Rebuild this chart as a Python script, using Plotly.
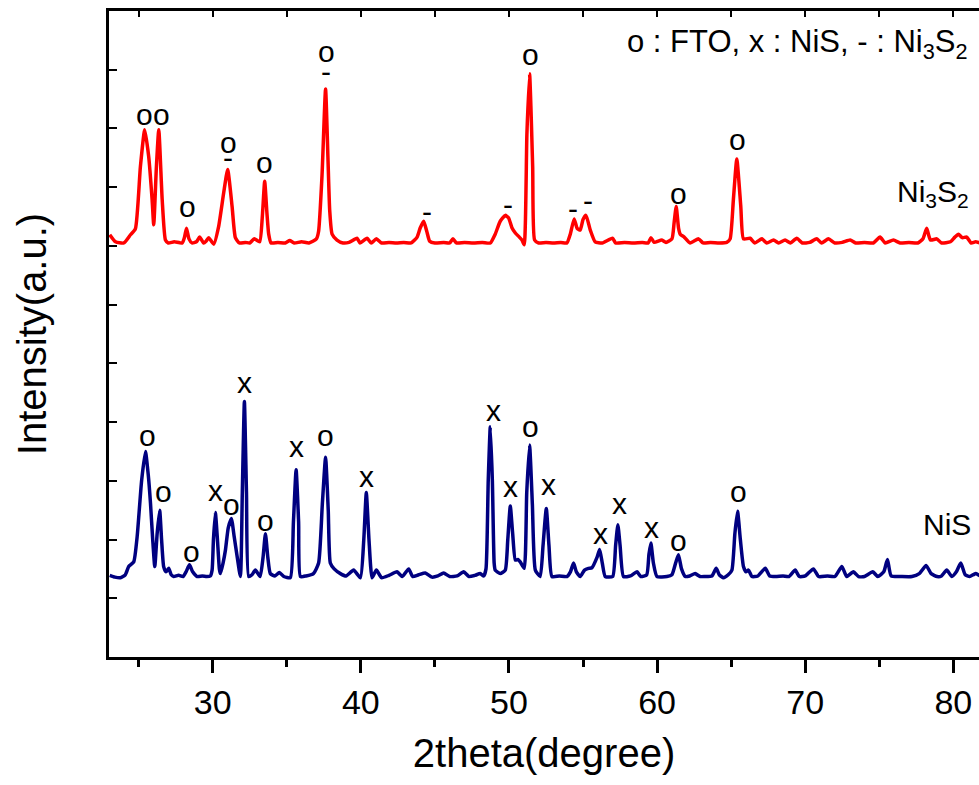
import plotly.graph_objects as go

# ---------------- data ----------------
ni3s2_2theta = [23.05, 23.44, 24.0, 24.45, 24.78, 25.12, 25.41, 25.68, 25.91, 26.02, 26.2, 26.36, 26.59, 26.81,
                27.0, 27.4, 27.94, 28.1, 28.23, 28.4, 28.6, 28.9, 29.12, 29.39, 29.55, 29.73, 30.07, 30.4,
                30.74, 31.01, 31.31, 31.53, 31.8, 32.2, 32.5, 32.81, 33.17, 33.35, 33.51, 33.65, 33.78, 33.94,
                34.4, 34.9, 35.2, 35.5, 36.0, 36.5, 37.0, 37.15, 37.38, 37.62, 37.78, 37.9, 38.06, 38.39,
                38.8, 39.2, 39.74, 39.95, 40.42, 40.7, 41.05, 41.4, 41.9, 42.4, 42.9, 43.4, 43.8, 44.0,
                44.24, 44.45, 44.65, 45.0, 45.6, 46.0, 46.22, 46.45, 47.0, 47.6, 48.2, 48.74, 49.07, 49.41,
                49.75, 49.97, 50.2, 50.43, 50.7, 50.88, 51.03, 51.21, 51.39, 51.6, 51.73, 52.0, 52.5, 53.0,
                53.5, 53.91, 54.14, 54.4, 54.6, 54.81, 55.0, 55.2, 55.49, 55.82, 56.3, 56.99, 57.2, 57.8,
                58.4, 59.0, 59.4, 59.58, 59.8, 60.32, 60.6, 61.0, 61.15, 61.29, 61.45, 61.56, 61.83, 62.23,
                62.8, 63.1, 63.6, 64.2, 64.7, 64.93, 65.15, 65.38, 65.65, 65.83, 66.28, 66.6, 67.07, 67.4,
                67.86, 68.2, 68.64, 69.0, 69.43, 69.8, 70.3, 70.78, 71.1, 71.57, 72.0, 72.5, 73.03, 73.4,
                74.0, 74.6, 75.05, 75.4, 75.95, 76.4, 77.0, 77.6, 77.95, 78.2, 78.45, 78.88, 79.2, 79.8,
                80.1, 80.34, 80.6, 80.9, 81.2, 81.5, 81.8]
ni3s2_intensity = [7.19, 7.07, 7.05, 7.19, 7.29, 8.35, 8.98, 8.52, 7.79, 7.36, 8.35, 8.98, 7.79, 7.10,
                   7.05, 7.07, 7.05, 7.15, 7.30, 7.12, 7.05, 7.07, 7.15, 7.05, 7.08, 7.14, 7.03, 7.33,
                   7.90, 8.30, 7.67, 7.14, 7.05, 7.06, 7.05, 7.12, 7.07, 7.50, 8.10, 7.60, 7.20, 7.05,
                   7.06, 7.05, 7.09, 7.05, 7.07, 7.05, 7.12, 7.25, 8.20, 9.67, 8.50, 7.60, 7.20, 7.10,
                   7.05, 7.06, 7.13, 7.05, 7.13, 7.05, 7.12, 7.05, 7.06, 7.05, 7.06, 7.05, 7.15, 7.30,
                   7.42, 7.25, 7.08, 7.05, 7.06, 7.05, 7.12, 7.05, 7.06, 7.05, 7.06, 7.05, 7.20, 7.42,
                   7.52, 7.48, 7.31, 7.22, 7.15, 7.10, 7.02, 8.90, 9.93, 8.35, 7.10, 7.05, 7.06, 7.05,
                   7.06, 7.05, 7.20, 7.46, 7.30, 7.27, 7.45, 7.52, 7.27, 7.07, 7.05, 7.13, 7.05, 7.06,
                   7.05, 7.06, 7.05, 7.14, 7.06, 7.10, 7.06, 7.12, 7.40, 7.67, 7.30, 7.20, 7.15, 7.05,
                   7.12, 7.05, 7.06, 7.05, 7.06, 7.12, 7.79, 8.48, 7.67, 7.12, 7.13, 7.05, 7.12, 7.05,
                   7.10, 7.05, 7.10, 7.05, 7.13, 7.05, 7.06, 7.12, 7.05, 7.12, 7.05, 7.06, 7.10, 7.05,
                   7.06, 7.05, 7.15, 7.05, 7.10, 7.05, 7.06, 7.05, 7.12, 7.30, 7.10, 7.12, 7.05, 7.07,
                   7.15, 7.20, 7.14, 7.15, 7.05, 7.07, 7.05]

nis_2theta = [23.05, 23.4, 23.77, 24.1, 24.33, 24.67, 24.9, 25.2, 25.46, 25.65, 25.8, 25.95, 26.09, 26.25,
              26.42, 26.55, 26.69, 26.85, 27.03, 27.2, 27.37, 27.7, 28.0, 28.2, 28.43, 28.65, 28.95, 29.3,
              29.6, 29.84, 29.96, 30.05, 30.18, 30.32, 30.45, 30.52, 30.7, 30.86, 31.05, 31.26, 31.45, 31.65,
              31.87, 32.0, 32.14, 32.28, 32.43, 32.65, 32.88, 33.2, 33.4, 33.56, 33.72, 33.89, 34.2, 34.5,
              34.8, 35.24, 35.45, 35.63, 35.8, 35.92, 36.3, 36.8, 37.15, 37.4, 37.62, 37.8, 37.94, 38.2,
              38.62, 39.0, 39.51, 39.97, 40.2, 40.37, 40.55, 40.76, 41.05, 41.4, 41.9, 42.44, 42.8, 43.23,
              43.5, 43.9, 44.35, 44.8, 45.2, 45.59, 46.0, 46.5, 46.94, 47.3, 47.7, 48.06, 48.3, 48.45,
              48.6, 48.74, 48.88, 49.0, 49.07, 49.41, 49.75, 49.92, 50.09, 50.25, 50.43, 50.6, 50.76, 51.03,
              51.2, 51.39, 51.58, 51.78, 52.11, 52.3, 52.52, 52.7, 52.9, 53.4, 53.91, 54.15, 54.36, 54.55,
              54.81, 55.1, 55.37, 55.6, 55.95, 56.12, 56.3, 56.5, 57.0, 57.2, 57.35, 57.5, 57.73, 58.2,
              58.64, 58.9, 59.3, 59.45, 59.58, 59.75, 59.99, 60.66, 61.0, 61.25, 61.44, 61.65, 61.9, 62.2,
              62.57, 62.9, 63.2, 63.7, 63.99, 64.2, 64.48, 64.8, 65.05, 65.25, 65.43, 65.62, 65.83, 66.0,
              66.17, 66.4, 66.8, 67.3, 67.6, 68.0, 68.5, 68.9, 69.32, 69.6, 70.0, 70.55, 70.9, 71.5,
              72.0, 72.47, 72.8, 73.25, 73.6, 74.0, 74.56, 74.9, 75.3, 75.55, 75.8, 76.5, 77.2, 77.7,
              78.16, 78.5, 78.9, 79.2, 79.55, 79.9, 80.2, 80.5, 80.8, 81.1, 81.5, 81.8]
nis_intensity = [1.39, 1.36, 1.35, 1.40, 1.54, 1.62, 2.05, 3.00, 3.50, 3.10, 2.62, 2.00, 1.54, 2.10,
                 2.50, 2.00, 1.54, 1.45, 1.51, 1.40, 1.37, 1.39, 1.37, 1.45, 1.57, 1.45, 1.37, 1.38,
                 1.37, 1.38, 1.48, 2.00, 2.46, 2.00, 1.50, 1.42, 1.60, 1.82, 2.20, 2.36, 2.05, 1.71,
                 1.37, 2.80, 4.35, 2.80, 1.37, 1.40, 1.48, 1.37, 1.70, 2.10, 1.70, 1.42, 1.38, 1.44,
                 1.37, 1.35, 2.30, 3.19, 2.30, 1.37, 1.38, 1.42, 1.60, 2.60, 3.40, 2.50, 1.60, 1.50,
                 1.42, 1.38, 1.48, 1.35, 2.00, 2.80, 2.00, 1.35, 1.48, 1.35, 1.39, 1.45, 1.37, 1.50,
                 1.37, 1.40, 1.43, 1.36, 1.38, 1.43, 1.37, 1.38, 1.45, 1.37, 1.39, 1.42, 1.38, 1.50,
                 3.00, 3.92, 3.00, 1.60, 1.48, 1.42, 1.48, 2.00, 2.57, 2.10, 1.65, 1.66, 1.62, 1.51,
                 2.80, 3.61, 2.60, 1.48, 1.37, 1.90, 2.53, 1.90, 1.37, 1.38, 1.37, 1.45, 1.60, 1.45,
                 1.37, 1.48, 1.51, 1.52, 1.70, 1.83, 1.60, 1.37, 1.37, 1.90, 2.25, 1.90, 1.37, 1.38,
                 1.45, 1.37, 1.40, 1.75, 1.94, 1.60, 1.37, 1.37, 1.40, 1.60, 1.74, 1.50, 1.37, 1.38,
                 1.42, 1.37, 1.37, 1.38, 1.51, 1.40, 1.35, 1.40, 1.48, 2.10, 2.48, 2.00, 1.54, 1.45,
                 1.48, 1.37, 1.38, 1.51, 1.38, 1.37, 1.38, 1.37, 1.48, 1.37, 1.38, 1.50, 1.37, 1.38,
                 1.37, 1.54, 1.37, 1.45, 1.37, 1.37, 1.45, 1.37, 1.45, 1.66, 1.38, 1.37, 1.37, 1.42,
                 1.56, 1.42, 1.37, 1.38, 1.48, 1.37, 1.45, 1.60, 1.40, 1.37, 1.42, 1.38]

x_tick_vals = [30, 40, 50, 60, 70, 80]
x_tick_text = ["30", "40", "50", "60", "70", "80"]

# peak marker labels: (2theta, intensity, symbol)
ni3s2_labels = [(25.39, 9.23, "o"), (26.54, 9.23, "o"), (28.29, 7.67, "o"), (31.06, 8.76, "o"),
                (31.06, 8.50, "-"), (33.5, 8.42, "o"), (37.68, 10.31, "o"), (37.68, 9.97, "-"),
                (44.49, 7.58, "-"), (49.96, 7.71, "-"), (51.44, 10.26, "o"), (54.35, 7.64, "-"),
                (55.36, 7.77, "-"), (61.43, 7.90, "o"), (65.4, 8.81, "o")]
nis_labels = [(25.6, 3.78, "o"), (26.67, 2.81, "o"), (28.56, 1.79, "o"), (30.18, 2.84, "x"),
              (31.26, 2.59, "o"), (32.14, 4.67, "x"), (33.56, 2.32, "o"), (35.65, 3.58, "x"),
              (37.6, 3.78, "o"), (40.37, 3.07, "x"), (48.94, 4.19, "x"), (50.09, 2.90, "x"),
              (51.44, 3.92, "o"), (52.65, 2.93, "x"), (56.16, 2.10, "x"), (57.44, 2.62, "x"),
              (59.6, 2.21, "x"), (61.43, 1.99, "o"), (65.47, 2.81, "o")]

# ---------------- figure ----------------
FONT = "Liberation Sans, Arial, sans-serif"
fig = go.Figure()
fig.add_trace(go.Scatter(x=ni3s2_2theta, y=ni3s2_intensity, mode="lines",
                         line=dict(color="#FF0000", width=3.5, shape="spline", smoothing=0.5),
                         showlegend=False, hoverinfo="skip"))
fig.add_trace(go.Scatter(x=nis_2theta, y=nis_intensity, mode="lines",
                         line=dict(color="#000080", width=3.5, shape="spline", smoothing=0.5),
                         showlegend=False, hoverinfo="skip"))
# invisible trace to activate the top axis
fig.add_trace(go.Scatter(x=[None], y=[None], xaxis="x2", yaxis="y", mode="lines",
                         showlegend=False, hoverinfo="skip"))

annotations = []
for xv, yv, t in ni3s2_labels + nis_labels:
    annotations.append(dict(x=xv, y=yv, xref="x", yref="y", text=t, showarrow=False,
                            font=dict(family=FONT, size=30, color="black"),
                            xanchor="center", yanchor="middle"))
annotations.append(dict(x=78.63, y=7.9, xref="x", yref="y", text="Ni<sub>3</sub>S<sub>2</sub>",
                        showarrow=False, font=dict(family=FONT, size=30, color="black"),
                        xanchor="center", yanchor="middle"))
annotations.append(dict(x=79.56, y=2.25, xref="x", yref="y", text="NiS",
                        showarrow=False, font=dict(family=FONT, size=30, color="black"),
                        xanchor="center", yanchor="middle"))
annotations.append(dict(x=81.13, y=10.43, xref="x", yref="y",
                        text="o : FTO, x : NiS, - : Ni<sub>3</sub>S<sub>2</sub>",
                        showarrow=False, font=dict(family=FONT, size=31, color="black"),
                        xanchor="right", yanchor="middle"))

x_range = [23.0, 81.73]
fig.update_layout(
    width=979, height=785,
    margin=dict(l=109, r=0, t=11, b=128),
    paper_bgcolor="white", plot_bgcolor="white",
    font=dict(family=FONT, color="black"),
    xaxis=dict(range=x_range, tickvals=x_tick_vals, ticktext=x_tick_text,
               ticks="outside", ticklen=13, tickwidth=3, tickcolor="black",
               minor=dict(ticks="outside", ticklen=7, tickwidth=3, tickcolor="black", dtick=5, tick0=0),
               showline=True, linewidth=3, linecolor="black", mirror=False,
               showgrid=False, zeroline=False,
               tickfont=dict(size=34, family=FONT),
               title=dict(text="2theta(degree)", font=dict(size=40, family=FONT), standoff=20)),
    xaxis2=dict(range=x_range, overlaying="x", side="top", anchor="y",
                ticks="inside", ticklen=6, tickwidth=2, tickcolor="black", dtick=5, tick0=0,
                showticklabels=False, showline=True, linewidth=3, linecolor="black",
                showgrid=False, zeroline=False),
    yaxis=dict(range=[0, 11], dtick=1, tick0=0, ticks="inside", ticklen=8, tickwidth=2,
               tickcolor="black", showticklabels=False, showline=True, linewidth=3,
               linecolor="black", mirror=False, showgrid=False, zeroline=False,
               title=dict(text="Intensity(a.u.)", font=dict(size=40, family=FONT), standoff=48)),
    annotations=annotations,
)

fig.write_html("out.html", config={"displayModeBar": False},
               post_script="document.body.style.margin='0';document.body.style.overflow='hidden';")
